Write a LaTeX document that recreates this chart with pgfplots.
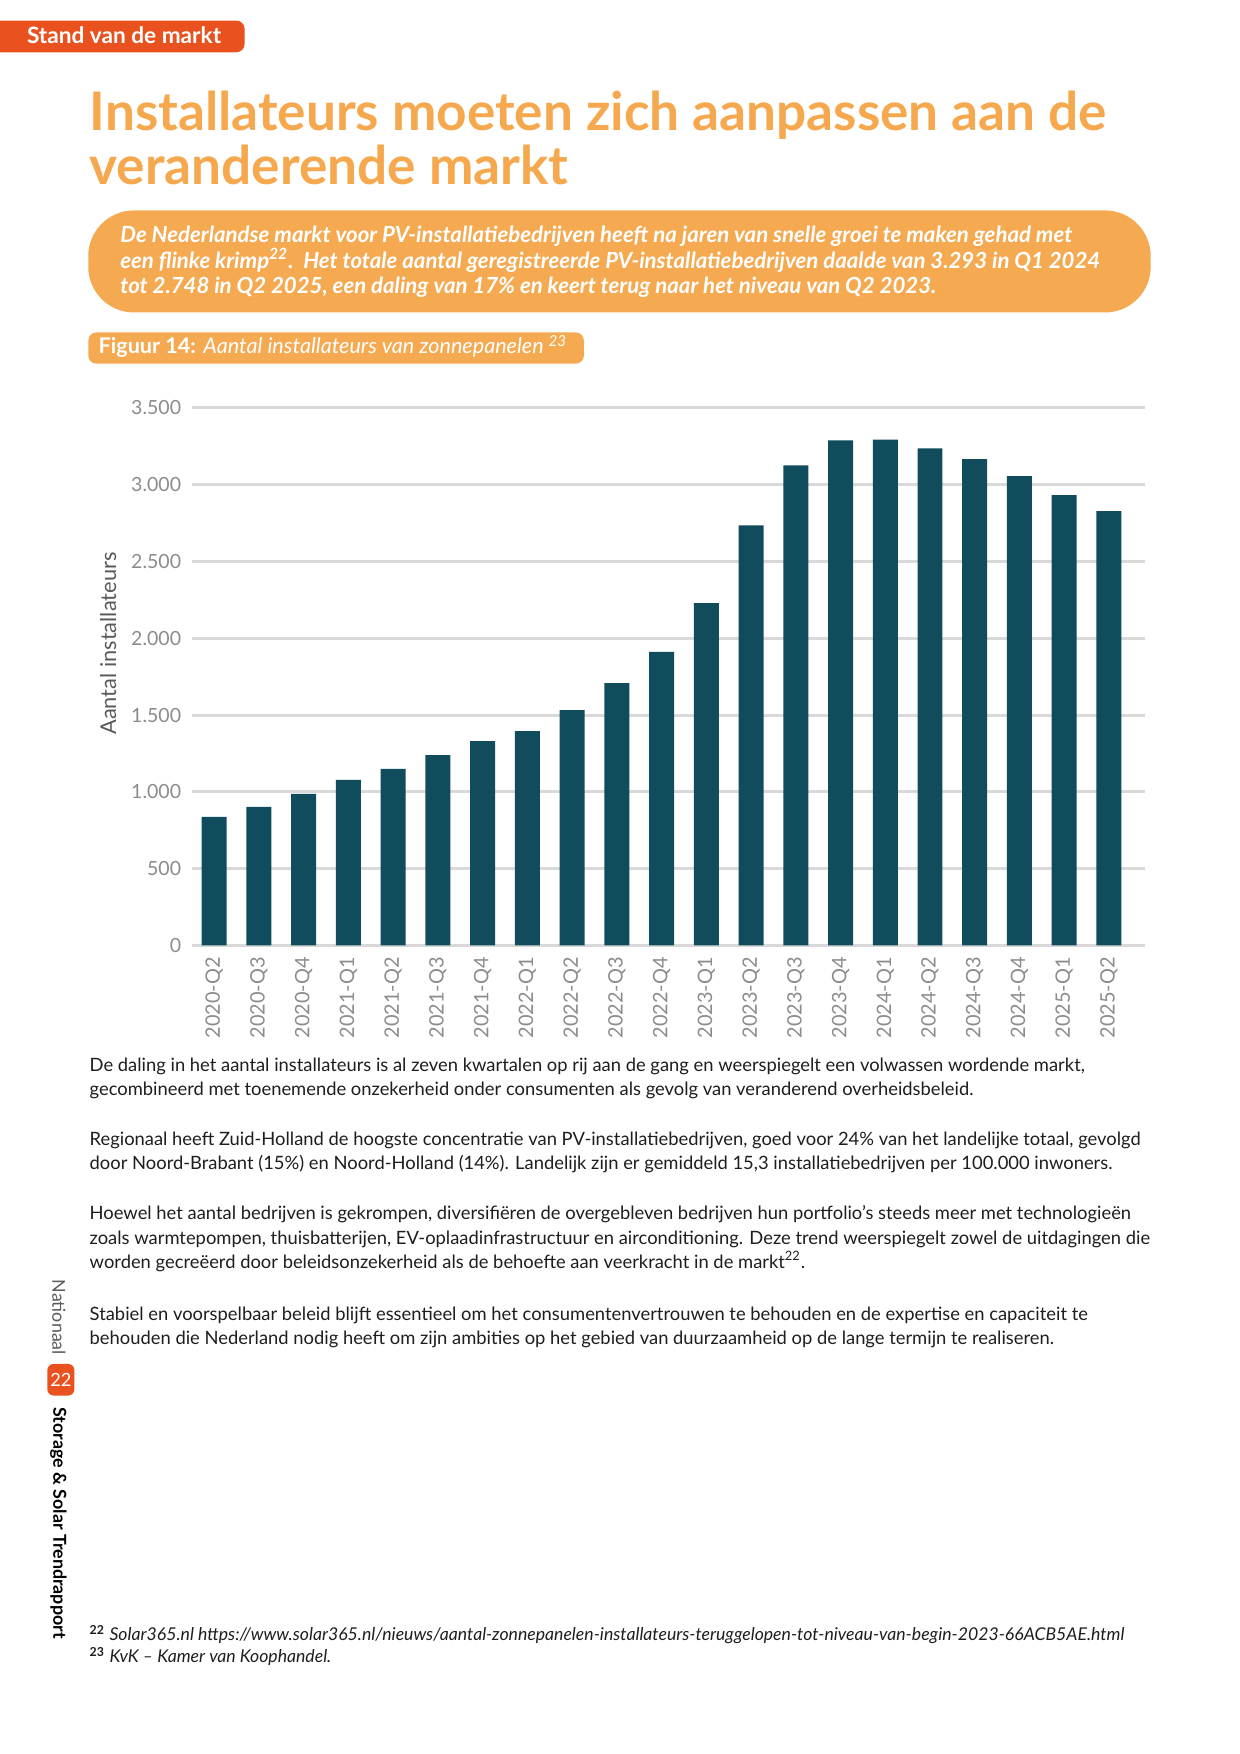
\documentclass[border=0pt]{standalone}
\usepackage{pgfplots}
\pgfplotsset{compat=1.18}
\usepackage{fontspec}
\setmainfont{Lato}

\definecolor{barteal}{RGB}{17,76,92}
\definecolor{titleorange}{RGB}{245,168,78}
\definecolor{boxorange}{RGB}{245,170,82}
\definecolor{taborange}{RGB}{233,81,30}
\definecolor{gridgray}{RGB}{217,217,217}
\definecolor{tickgray}{RGB}{140,140,140}
\definecolor{labelgray}{RGB}{90,90,90}
\definecolor{bodytext}{RGB}{30,30,30}

\newcommand\bodyfont{\fontsize{8.85}{10}\selectfont}

\begin{document}
\begin{tikzpicture}[x=0.190909mm,y=0.190909mm]
\useasboundingbox (0,0) rectangle (1100,1556);
\fill[white] (0,0) rectangle (1100,1556);

% header tab
\fill[taborange, rounded corners=4] (-10,1509.6) rectangle (217,1537.7);
\node[anchor=base west, text=white, inner sep=0, font=\fontsize{10.9}{12}\selectfont\bfseries] at (23.6,1517.6) {Stand van de markt};

% title
\node[anchor=base west, text=titleorange, inner sep=0, font=\fontsize{25.6}{30}\selectfont\bfseries] at (79.2,1440.2) {Installateurs moeten zich aanpassen aan de};
\node[anchor=base west, text=titleorange, inner sep=0, font=\fontsize{25.6}{30}\selectfont\bfseries] at (79.2,1392) {veranderende markt};

% intro box
\fill[boxorange, rounded corners=22] (78.3,1278.8) rectangle (1020.8,1369.3);
\begin{scope}[every node/.style={anchor=base west, text=white, inner sep=0, font=\fontsize{10.7}{12}\selectfont\bfseries\itshape}]
\node at (106.4,1340.9) {De Nederlandse markt voor PV-installatiebedrijven heeft na jaren van snelle groei te maken gehad met};
\node at (106.4,1318.2) {een flinke krimp\textsuperscript{22}.\ \ Het totale aantal geregistreerde PV-installatiebedrijven daalde van 3.293 in Q1 2024};
\node at (106.4,1296) {tot 2.748 in Q2 2025, een daling van 17\% en keert terug naar het niveau van Q2 2023.};
\end{scope}

% figure caption
\fill[boxorange, rounded corners=4] (78.3,1233.3) rectangle (518,1261.1);
\node[anchor=base west, text=white, inner sep=0, font=\fontsize{10.4}{12}\selectfont] at (87.2,1242.2) {\textbf{Figuur 14:} \textit{Aantal installateurs van zonnepanelen \textsuperscript{23}}};

% chart
\node[rotate=90, text=labelgray, font=\fontsize{10.5}{12}\selectfont] at (96,985) {Aantal installateurs};
\begin{axis}[
  at={(32.49mm,136.92mm)}, anchor=south west,
  scale only axis, width=161.37mm, height=91.05mm,
  xmin=-0.5, xmax=20.80, ymin=0, ymax=3500,
  ybar, bar width=4.23mm,
  axis line style={draw=none},
  major tick length=0pt,
  ymajorgrids, grid style={gridgray, line width=1.45pt},
  ytick={0,500,...,3500},
  scaled y ticks=false,
  yticklabel style={text=tickgray, font=\fontsize{9.4}{10}\selectfont, inner sep=0pt, anchor=east},
  yticklabel shift=1.75mm,
  xtick={0,...,20},
  xticklabels={2020-Q2,2020-Q3,2020-Q4,2021-Q1,2021-Q2,2021-Q3,2021-Q4,2022-Q1,2022-Q2,2022-Q3,2022-Q4,2023-Q1,2023-Q2,2023-Q3,2023-Q4,2024-Q1,2024-Q2,2024-Q3,2024-Q4,2025-Q1,2025-Q2},
  xticklabel style={rotate=90, anchor=east, text=tickgray, font=\fontsize{9.6}{10}\selectfont, inner sep=0pt},
  xticklabel shift=1.9mm,
  /pgf/number format/.cd, 1000 sep={.}, assume math mode=true
]
\draw[gridgray, line width=2.1pt] ([yshift=-1.1pt]axis cs:-0.5,0) -- ([yshift=-1.1pt]axis cs:20.80,0);
\addplot[fill=barteal, draw=none] coordinates {
  (0,838) (1,903) (2,987) (3,1078) (4,1149) (5,1240) (6,1331)
  (7,1396) (8,1532) (9,1708) (10,1911) (11,2229) (12,2735)
  (13,3125) (14,3288) (15,3293) (16,3237) (17,3166) (18,3056)
  (19,2932) (20,2828)
};
\end{axis}

% body text
\begin{scope}[every node/.style={anchor=base west, text=bodytext, inner sep=0, font=\bodyfont}]
\node at (79.2,605.2) {De daling in het aantal installateurs is al zeven kwartalen op rij aan de gang en weerspiegelt een volwassen wordende markt,};
\node at (79.2,583.9) {gecombineerd met toenemende onzekerheid onder consumenten als gevolg van veranderend overheidsbeleid.};
\node at (79.2,539.6) {Regionaal heeft Zuid-Holland de hoogste concentratie van PV-installatiebedrijven, goed voor 24\% van het landelijke totaal, gevolgd};
\node at (79.2,518.3) {door Noord-Brabant (15\%) en Noord-Holland (14\%). Landelijk zijn er gemiddeld 15,3 installatiebedrijven per 100.000 inwoners.};
\node at (79.2,474) {Hoewel het aantal bedrijven is gekrompen, diversifiëren de overgebleven bedrijven hun portfolio’s steeds meer met technologieën};
\node at (79.2,452.4) {zoals warmtepompen, thuisbatterijen, EV-oplaadinfrastructuur en airconditioning. Deze trend weerspiegelt zowel de uitdagingen die};
\node at (79.2,430.9) {worden gecreëerd door beleidsonzekerheid als de behoefte aan veerkracht in de markt\textsuperscript{22}.};
\node at (79.2,385) {Stabiel en voorspelbaar beleid blijft essentieel om het consumentenvertrouwen te behouden en de expertise en capaciteit te};
\node at (79.2,363.5) {behouden die Nederland nodig heeft om zijn ambities op het gebied van duurzaamheid op de lange termijn te realiseren.};
\end{scope}

% footnotes
\begin{scope}[every node/.style={anchor=base west, text=bodytext, inner sep=0, font=\fontsize{8.5}{10}\selectfont}]
\node at (79.2,101) {\textbf{\textsuperscript{22}} \textit{Solar365.nl https://www.solar365.nl/nieuws/aantal-zonnepanelen-installateurs-teruggelopen-tot-niveau-van-begin-2023-66ACB5AE.html}};
\node at (79.2,81) {\textbf{\textsuperscript{23}} \textit{KvK -- Kamer van Koophandel.}};
\end{scope}

% side footer
\node[rotate=-90, anchor=west, inner sep=0, text=labelgray, font=\fontsize{8.6}{10}\selectfont] at (52.3,421) {Nationaal};
\fill[taborange, rounded corners=3] (42,318) rectangle (66,346);
\node[text=white, inner sep=0, font=\fontsize{8.8}{10}\selectfont] at (54,332) {22};
\node[rotate=-90, anchor=west, inner sep=0, text=black, font=\fontsize{8.6}{10}\selectfont\bfseries] at (51.7,307.7) {Storage \& Solar Trendrapport};
\end{tikzpicture}
\end{document}
